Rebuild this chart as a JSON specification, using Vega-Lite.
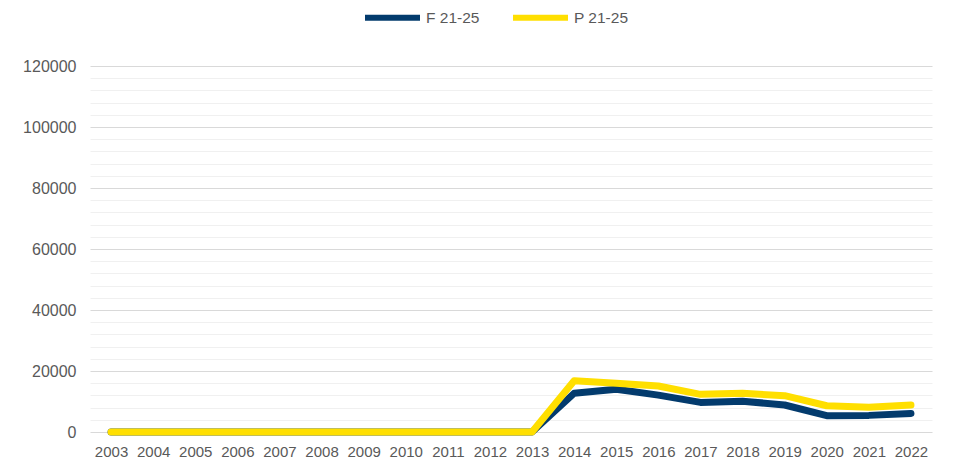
{
  "$schema": "https://vega.github.io/schema/vega-lite/v6.json",
  "width": 842,
  "height": 366,
  "autosize": {"type": "none"},
  "padding": {"left": 90, "top": 66, "right": 21, "bottom": 41},
  "background": "white",
  "config": {
    "view": {"stroke": null},
    "font": "Liberation Sans",
    "axis": {"labelFont": "Liberation Sans", "labelColor": "#595959", "labelFontSize": 15}
  },
  "data": {
    "values": [
      {"year": "2003", "series": "F 21-25", "value": 0},
      {"year": "2004", "series": "F 21-25", "value": 0},
      {"year": "2005", "series": "F 21-25", "value": 0},
      {"year": "2006", "series": "F 21-25", "value": 0},
      {"year": "2007", "series": "F 21-25", "value": 0},
      {"year": "2008", "series": "F 21-25", "value": 0},
      {"year": "2009", "series": "F 21-25", "value": 0},
      {"year": "2010", "series": "F 21-25", "value": 0},
      {"year": "2011", "series": "F 21-25", "value": 0},
      {"year": "2012", "series": "F 21-25", "value": 0},
      {"year": "2013", "series": "F 21-25", "value": 0},
      {"year": "2014", "series": "F 21-25", "value": 12700},
      {"year": "2015", "series": "F 21-25", "value": 14000},
      {"year": "2016", "series": "F 21-25", "value": 12100},
      {"year": "2017", "series": "F 21-25", "value": 9700},
      {"year": "2018", "series": "F 21-25", "value": 10100},
      {"year": "2019", "series": "F 21-25", "value": 8850},
      {"year": "2020", "series": "F 21-25", "value": 5350},
      {"year": "2021", "series": "F 21-25", "value": 5450},
      {"year": "2022", "series": "F 21-25", "value": 6100},
      {"year": "2003", "series": "P 21-25", "value": 0},
      {"year": "2004", "series": "P 21-25", "value": 0},
      {"year": "2005", "series": "P 21-25", "value": 0},
      {"year": "2006", "series": "P 21-25", "value": 0},
      {"year": "2007", "series": "P 21-25", "value": 0},
      {"year": "2008", "series": "P 21-25", "value": 0},
      {"year": "2009", "series": "P 21-25", "value": 0},
      {"year": "2010", "series": "P 21-25", "value": 0},
      {"year": "2011", "series": "P 21-25", "value": 0},
      {"year": "2012", "series": "P 21-25", "value": 0},
      {"year": "2013", "series": "P 21-25", "value": 0},
      {"year": "2014", "series": "P 21-25", "value": 16800},
      {"year": "2015", "series": "P 21-25", "value": 15950},
      {"year": "2016", "series": "P 21-25", "value": 15100},
      {"year": "2017", "series": "P 21-25", "value": 12350},
      {"year": "2018", "series": "P 21-25", "value": 12700},
      {"year": "2019", "series": "P 21-25", "value": 11900},
      {"year": "2020", "series": "P 21-25", "value": 8600},
      {"year": "2021", "series": "P 21-25", "value": 8100},
      {"year": "2022", "series": "P 21-25", "value": 8850}
    ]
  },
  "mark": {"type": "line", "strokeWidth": 7, "strokeCap": "round", "strokeJoin": "round"},
  "encoding": {
    "x": {
      "field": "year",
      "type": "ordinal",
      "scale": {"type": "point", "padding": 0.5},
      "axis": {"title": null, "labelAngle": 0, "ticks": false, "tickSize": 0, "domain": false, "labelPadding": 12, "grid": false}
    },
    "y": {
      "field": "value",
      "type": "quantitative",
      "scale": {"domain": [0, 120000], "nice": false},
      "axis": {
        "title": null,
        "values": [0, 4000, 8000, 12000, 16000, 20000, 24000, 28000, 32000, 36000, 40000, 44000, 48000, 52000, 56000, 60000, 64000, 68000, 72000, 76000, 80000, 84000, 88000, 92000, 96000, 100000, 104000, 108000, 112000, 116000, 120000],
        "labelExpr": "datum.value % 20000 === 0 ? format(datum.value, 'd') : ''",
        "labelFontSize": 16,
        "ticks": false,
        "tickSize": 0,
        "domain": false,
        "labelPadding": 14,
        "grid": true,
        "gridWidth": 1,
        "gridColor": {"condition": {"test": "datum.value % 20000 === 0", "value": "#d9d9d9"}, "value": "#f0f0f0"}
      }
    },
    "color": {
      "field": "series",
      "type": "nominal",
      "scale": {"domain": ["F 21-25", "P 21-25"], "range": ["#033b6d", "#ffdf00"]},
      "legend": {
        "title": null,
        "orient": "none",
        "direction": "horizontal",
        "legendX": 272,
        "legendY": -79,
        "symbolType": "stroke",
        "symbolSize": 3025,
        "symbolStrokeWidth": 6,
        "labelFontSize": 15.5,
        "labelColor": "#595959",
        "labelFont": "Liberation Sans",
        "labelOffset": 3,
        "columnPadding": 21,
        "padding": 0
      }
    },
    "order": {"field": "series"}
  }
}
